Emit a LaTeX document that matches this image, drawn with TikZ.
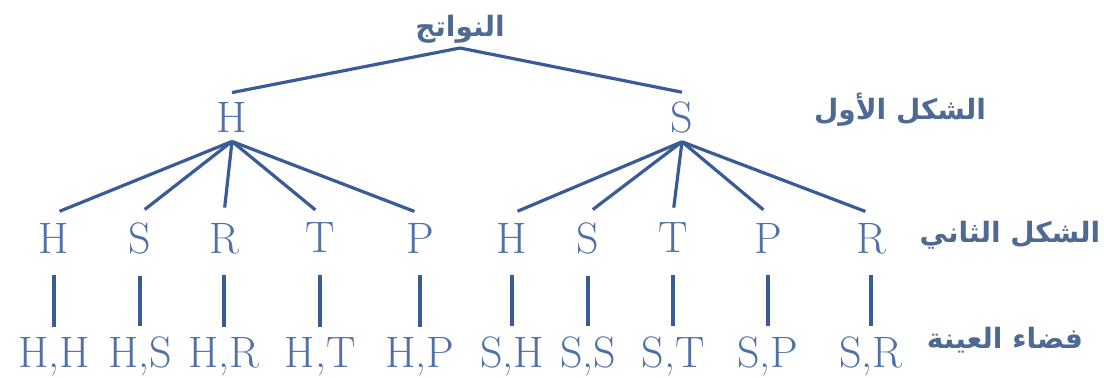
\documentclass[tikz,border=0pt]{standalone}
\usepackage{fontspec}
\newfontfamily\arabicfont[Script=Arabic]{DejaVu Sans}
\TeXXeTstate=1
\definecolor{treeline}{RGB}{58,92,150}
\definecolor{treetext}{RGB}{80,112,166}
\definecolor{rowtext}{RGB}{78,106,148}

\begin{document}
\begin{tikzpicture}[x=0.5pt,y=-0.5pt,
	letter/.style={text=treetext,font=\fontsize{22}{26}\selectfont,inner sep=4.5pt,text depth=0pt},
	rowname/.style={text=rowtext,font=\arabicfont\bfseries\fontsize{14}{16}\selectfont,inner sep=2pt},
	every edge/.style={draw=treeline,line width=1.6pt},
	bar/.style={shorten <=6.5pt,shorten >=0.5pt}]

	\useasboundingbox (0,0) rectangle (1104,378);

	\node[rowname, anchor=south] (root) at (460,48) {\beginR النواتج\endR};
	\node[letter] (h) at (232,117) {H};
	\node[letter] (s) [right of=h, node distance=225pt] {S};
	\path (root.south) edge (h.north) edge (s.north);
	\node[rowname] (first) at (900,110) {\beginR الشكل الأول\endR};

	\node[letter] (hh) at (54,238) {H};
	\node[letter] (hs) [right of=hh, node distance=43pt] {S};
	\node[letter] (hr) [right of=hs, node distance=42pt] {R};
	\node[letter] (ht) [right of=hr, node distance=48pt] {T};
	\node[letter] (hp) [right of=ht, node distance=50pt] {P};
	\node[letter] (sh) [right of=hp, node distance=46pt] {H};
	\node[letter] (ss) [right of=sh, node distance=38pt] {S};
	\node[letter] (st) [right of=ss, node distance=42.5pt] {T};
	\node[letter] (sp) [right of=st, node distance=47.5pt] {P};
	\node[letter] (sr) [right of=sp, node distance=51.5pt] {R};
	\path[shorten >=3pt] (h.south) edge (hh.north) edge (hs.north) edge (hr.north) edge (ht.north) edge (hp.north);
	\path[shorten >=3pt] (s.south) edge (sh.north) edge (ss.north) edge (st.north) edge (sp.north) edge (sr.north);
	\node[rowname] (second) at (1010,235) {\beginR الشكل الثاني\endR};

	\node[letter] (hhx) [below of=hh, node distance=57pt] {H,H};
	\node[letter] (hsx) [below of=hs, node distance=57pt] {H,S};
	\node[letter] (hrx) [below of=hr, node distance=57pt] {H,R};
	\node[letter] (htx) [below of=ht, node distance=57pt] {H,T};
	\node[letter] (hpx) [below of=hp, node distance=57pt] {H,P};
	\node[letter] (shx) [below of=sh, node distance=57pt] {S,H};
	\node[letter] (ssx) [below of=ss, node distance=57pt] {S,S};
	\node[letter] (stx) [below of=st, node distance=57pt] {S,T};
	\node[letter] (spx) [below of=sp, node distance=57pt] {S,P};
	\node[letter] (srx) [below of=sr, node distance=57pt] {S,R};
	\path (hh) edge[bar] (hhx) (hs) edge[bar] (hsx) (hr) edge[bar] (hrx) (ht) edge[bar] (htx) (hp) edge[bar] (hpx);
	\path (sh) edge[bar] (shx) (ss) edge[bar] (ssx) (st) edge[bar] (stx) (sp) edge[bar] (spx) (sr) edge[bar] (srx);
	\node[rowname] (space) at (1005,340) {\beginR فضاء العينة\endR};

\end{tikzpicture}
\end{document}
